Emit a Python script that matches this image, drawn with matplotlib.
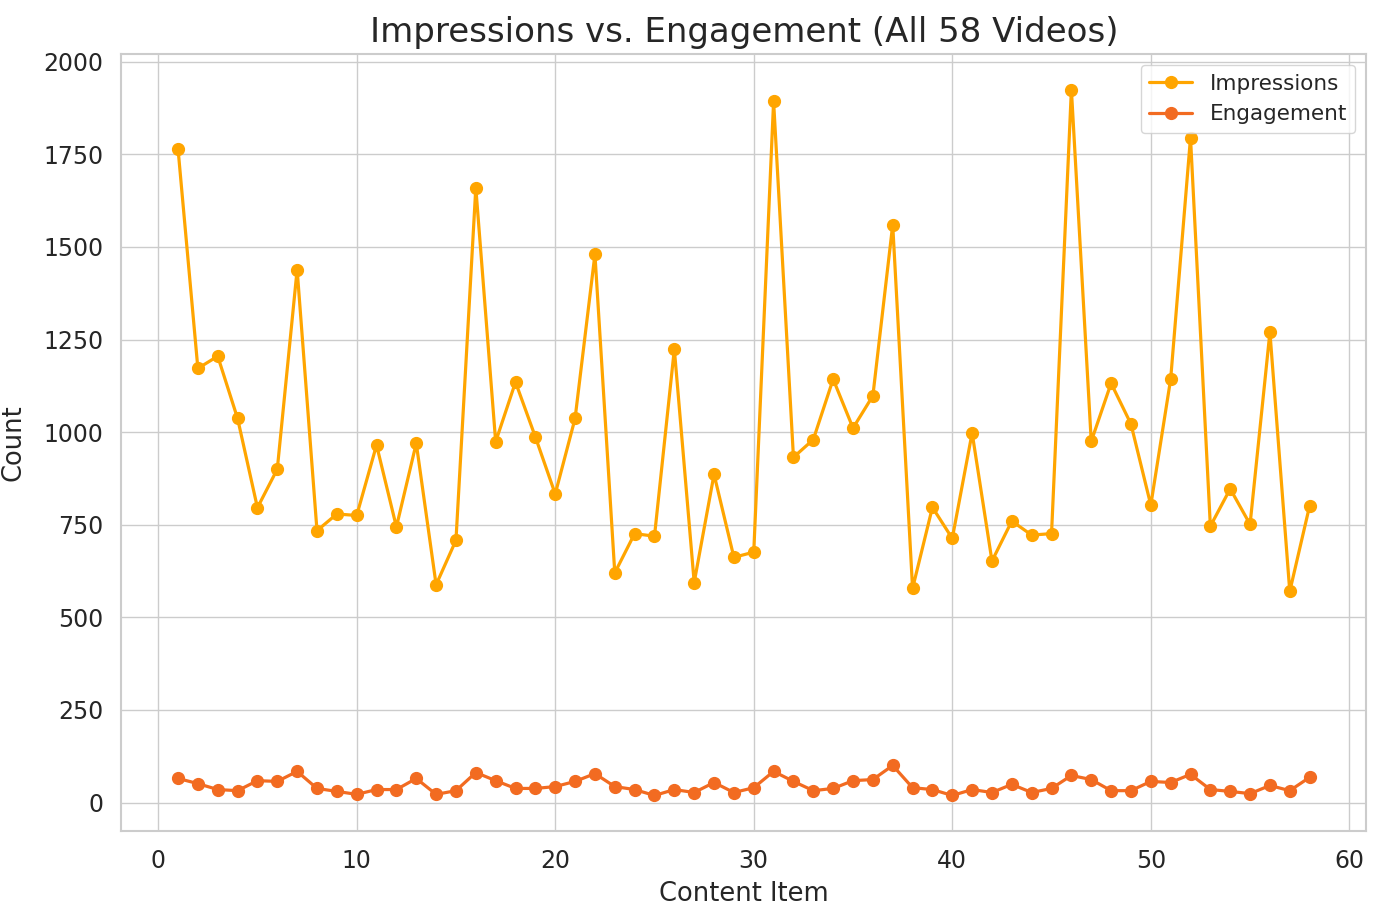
import matplotlib.pyplot as plt
import seaborn as sns
import numpy as np

sns.set_theme(style="whitegrid")
plt.rcParams['font.family'] = ['DejaVu Sans']

items = np.arange(1, 59)
impressions = [1765, 1172, 1205, 1037, 796, 900, 1439, 734, 779, 775,
               965, 744, 970, 588, 708, 1660, 974, 1135, 987, 833,
               1037, 1480, 620, 726, 719, 1224, 594, 886, 662, 676,
               1893, 932, 980, 1143, 1011, 1098, 1560, 578, 797, 713,
               998, 652, 760, 722, 726, 1925, 975, 1132, 1022, 803,
               1143, 1795, 746, 847, 751, 1270, 570, 801]
engagement = [65, 51, 35, 32, 59, 57, 84, 38, 30, 22,
              35, 35, 65, 22, 32, 81, 59, 38, 38, 43,
              57, 78, 43, 35, 19, 35, 27, 54, 27, 40,
              84, 57, 32, 38, 59, 62, 100, 40, 35, 19,
              35, 27, 49, 27, 38, 73, 62, 32, 32, 57,
              54, 76, 35, 30, 24, 46, 32, 68]

fig, ax = plt.subplots(figsize=(13.8, 9.19), dpi=100)
ax.plot(items, impressions, marker='o', color='#FFA500', linewidth=2.3, markersize=8.5, label='Impressions')
ax.plot(items, engagement, marker='o', color='#F26B21', linewidth=2.3, markersize=8.5, label='Engagement')

ax.set_title('Impressions vs. Engagement (All 58 Videos)', fontsize=24.5, pad=9)
ax.set_xlabel('Content Item', fontsize=18.5, labelpad=6)
ax.set_ylabel('Count', fontsize=18.5, labelpad=12)
ax.tick_params(labelsize=17, pad=7)
ax.set_yticks([0, 250, 500, 750, 1000, 1250, 1500, 1750, 2000])
for s in ax.spines.values():
    s.set_color('#cccccc')
    s.set_linewidth(1.5)
ax.legend(loc='upper right', fontsize=15.5)

plt.subplots_adjust(left=0.088, right=0.99, top=0.941, bottom=0.096)
plt.savefig('out.png', dpi=100)
